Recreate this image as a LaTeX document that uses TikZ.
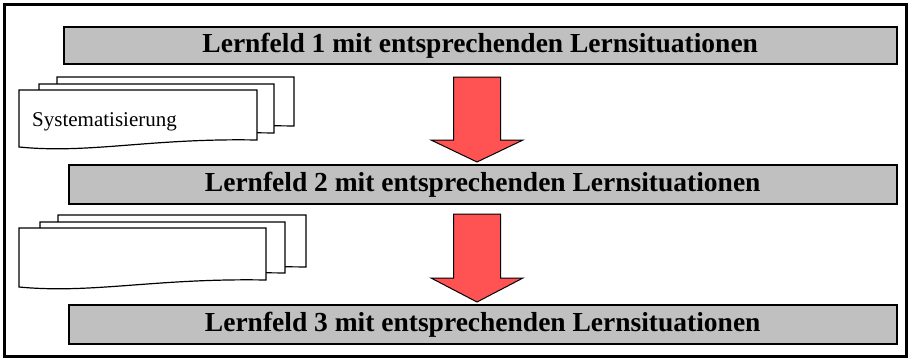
\documentclass[tikz,border=0pt]{standalone}
\usepackage{fontspec}
\setmainfont{Liberation Serif}
\definecolor{fieldgray}{RGB}{192,192,192}
\definecolor{arrowred}{RGB}{255,82,82}

% a sheet of paper with a wavy lower edge: x, y (top left), width, height (right side)
\newcommand\papersheet[4]{%
  \draw[sheet] (#1,#2) -- ++(#3,0) -- ++(0,#4)
    .. controls (#1+0.55*#3,#2+#4-2) and (#1+0.3*#3,#2+#4+14) .. (#1,#2+#4+7) -- cycle;}

% a broad downward block arrow: centre x, top y, head y, tip y
\newcommand\blockdown[4]{%
  \draw[blockarrow] (#1-23.5,#2) -- (#1+23.5,#2) -- (#1+23.5,#3) -- (#1+46,#3)
    -- (#1,#4) -- (#1-46,#3) -- (#1-23.5,#3) -- cycle;}

\begin{document}
\begin{tikzpicture}[x=1pt,y=-1pt,
  field/.style={draw=black, line width=1.5pt, fill=fieldgray, inner sep=0pt,
    anchor=north west, font=\bfseries\fontsize{27.5}{30}\selectfont},
  sheet/.style={draw=black, line width=1.2pt, fill=white, line join=miter},
  blockarrow/.style={draw=black, line width=1pt, fill=arrowred, line join=miter},
  frame/.style={draw=black, line width=3pt}]
\useasboundingbox (0,0) rectangle (910,362);
\draw[frame] (4,4) rectangle (906,356);

% learning fields
\node[field, minimum width=833pt, minimum height=37pt] (lf1) at (63,26)
  {Lernfeld 1 mit entsprechenden Lernsituationen};
\node[field, minimum width=828pt, minimum height=39pt] (lf2) at (68,164)
  {Lernfeld 2 mit entsprechenden Lernsituationen};
\node[field, minimum width=828pt, minimum height=39pt] (lf3) at (68,304)
  {Lernfeld 3 mit entsprechenden Lernsituationen};

% transitions between the fields
\blockdown{477}{77}{140}{162}
\blockdown{477}{214}{278}{302}

% stacks of sheets
\papersheet{57}{77}{237}{49}
\papersheet{39}{84}{235}{49}
\papersheet{19}{90}{238}{50}
\node[anchor=base west, inner sep=0pt, font=\fontsize{21}{23}\selectfont]
  (sys) at (32,126) {Systematisierung};

\papersheet{58}{215}{248}{52}
\papersheet{40}{222}{245}{51}
\papersheet{19}{228}{247}{52}
\end{tikzpicture}
\end{document}
